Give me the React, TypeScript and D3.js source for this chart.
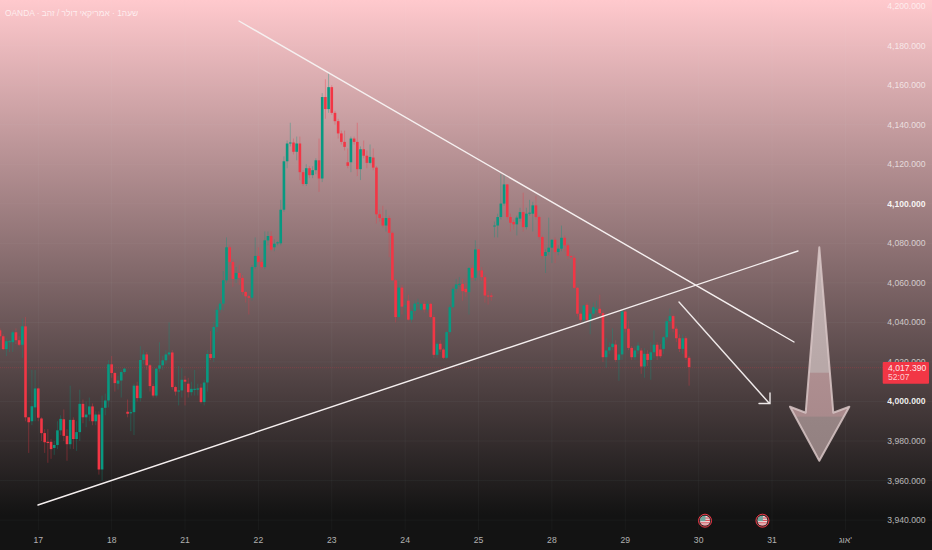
import React, { useEffect, useRef } from 'react';
import * as d3 from 'd3';

const opens = [
  4036,4033,4026.5,4030,4030,4035,4031,4028.7,4038,3992,
  3990,3997,4006.6,3991.4,3984,3979.6,3979.6,3976.5,3978,3985.4,
  3991,3982.6,3978.4,3990.7,3981,3984.5,3998.8,3992,3993.4,3997.5,
  3990,3993.4,3965.6,3996.8,4000.5,4018.8,4014.4,4009,4010.6,4014.9,
  3994.8,3994,3994.6,4008,4001.7,4021,4023.8,4018.3,4007.8,4003,
  4016.6,4018.3,4020.8,4023.8,4024.8,4007.3,4005,4005.6,4011,4009,
  4004.7,4006,4006,4007,3999.7,4009.6,4024,4022,4037.7,4046.4,
  4049.5,4061.3,4078,4070.6,4062,4065,4062.5,4055.4,4053.2,4052.5,
  4068,4073.6,4070.6,4068,4081.5,4083.7,4078,4080,4080,4097,
  4121.5,4130.5,4131,4126.3,4130.5,4116,4110,4118,4114.5,4117,
  4122,4112.8,4154,4147.9,4159,4146,4141.8,4135.6,4131.3,4121,
  4121,4133,4131.3,4117.5,4127.6,4124.3,4120.7,4123.4,4118.3,4094.7,
  4092.8,4089,4092.8,4085.3,4061.3,4042.7,4057.6,4048,4051,4041.4,
  4045.8,4049.5,4046.5,4049.4,4046.5,4049.4,4042.7,4023.6,4029.2,4026.3,
  4022.1,4035.1,4047.7,4057,4059.2,4059.5,4057,4055.3,4067.5,4062.6,
  4076.9,4066.3,4062.9,4053.6,4053.6,4088.6,4089,4093.3,4100.1,4109.8,
  4093.3,4090.8,4089.6,4092.5,4095.8,4088.2,4095,4095,4099.2,4093.3,
  4083.2,4073.6,4075.6,4077.8,4081.8,4075.6,4077.3,4082.8,4079,4073.6,
  4072.7,4057.5,4044.4,4041.3,4048.9,4041.3,4044.4,4046.5,4046.9,4044.7,
  4022.4,4025.8,4027.5,4028.8,4021,4023.8,4045.5,4036.8,4027.1,4022.4,
  4025.8,4025.8,4017.7,4024.1,4021,4024.9,4028.7,4026.3,4026.6,4032.5,
  4040.6,4043.2,4036.8,4032,4026.6,4032,4022.1,
];
const closes = [
  4033,4026.5,4030.5,4030.5,4035,4031,4028.7,4038,3992,3989.5,
  3997.6,4006.6,3991.8,3984,3979.4,3979,3975.9,3978,3985.4,3991.2,
  3982.6,3978.4,3990.7,3981,3984.5,3998.8,3992,3993.4,3997.5,3990,
  3993.4,3965.6,3996.8,4000.5,4018.8,4014.4,4009.3,4010.6,4014.9,4016.6,
  3993.8,3994.6,4008,4001.7,4021,4023.8,4018.3,4007.8,4003,4016.6,
  4018.3,4020.8,4023.8,4024.8,4007.3,4005,4005.6,4011,4010,4004.7,
  4006.4,4006.4,4006.6,3999.7,4009.6,4024,4022,4037.7,4046.4,4049.5,
  4061.3,4078,4070.6,4062,4065,4062.5,4055.4,4053.2,4052.5,4068,
  4073.6,4070.6,4068,4081.5,4083.7,4076.8,4079.8,4080.5,4097,4121.5,
  4130.5,4131,4126.3,4130.5,4116,4110,4118,4114.5,4117,4122,
  4112.8,4154,4147.9,4159,4146,4141.8,4135.6,4131.3,4128.8,4119.2,
  4133,4131.3,4117.5,4127.6,4124.3,4120.7,4123.7,4118.3,4094.7,4092.8,
  4089,4092.8,4085.3,4061.3,4042.7,4057.6,4048,4048.5,4041.4,4045.8,
  4049.5,4050,4049.4,4046.5,4049.4,4042.7,4023.6,4029.2,4026.3,4022.1,
  4035.1,4047.7,4057,4059.2,4059.5,4055.8,4055.3,4067.5,4062.6,4076.9,
  4066.3,4062.9,4053.6,4053.3,4053,4089,4093.3,4100.1,4109.8,4093.3,
  4090.4,4089.6,4093,4095.8,4088.2,4095,4095.5,4099.2,4093.3,4083.2,
  4073.6,4075.6,4077.8,4081.8,4075.6,4077.3,4082.8,4079,4073.6,4073,
  4057.5,4044.4,4041.3,4048.6,4041.3,4044.4,4047.7,4046.9,4044.7,4022.4,
  4025.8,4027.5,4029.2,4021,4023.8,4045.5,4036.8,4027.1,4022.4,4025.8,
  4028.3,4017.7,4024.1,4021,4024.9,4028.7,4022.9,4022.9,4032.5,4040.6,
  4043.2,4036.8,4032,4026.6,4032,4022.1,4017.4,
];
const highs = [
  4037,4034,4032,4031,4036,4037,4033,4042,4042.7,3992,
  4016,4016,4007,3992,3986,3986,3981,3980,3990,3993,
  3996,3986,4008,3992,3990,4006,4001,4000,4002,3999,
  3995,3995,4003,4004,4021,4023,4015,4013,4016,4017,
  4001,3996,4009,4010,4028,4026,4025,4019,4009,4017,
  4030,4023,4026,4040,4026,4008,4018,4017,4013,4012,
  4010,4016,4009,4009,4011,4026,4035.6,4040,4048,4051,
  4066,4083,4079,4072,4068,4069,4064,4056,4054,4069,
  4083,4078,4072,4086,4086,4086,4082,4081,4102,4124,
  4132,4141,4133,4134,4134,4117,4120,4119,4119,4123,
  4133,4156,4163,4166,4160,4147,4143,4137,4137,4128,
  4134,4134,4141,4129,4132,4127,4130,4128,4119,4097,
  4099,4097,4094,4086,4062,4061,4059,4052,4054,4047,
  4051,4052,4050,4051,4051,4050,4044,4030,4031,4027,
  4036,4049,4058,4062,4063,4062,4060,4068,4069,4081.5,
  4077,4068,4064,4056,4055,4091,4095,4115,4115,4110,
  4095,4092,4094,4098,4105.6,4098,4102,4101,4104,4094,
  4084,4077,4093,4082,4083,4079,4089,4084,4080,4074,
  4074,4058,4045,4049,4050,4045,4050,4051,4054,4046,
  4032,4030,4037,4031,4029,4046,4046,4041,4028,4028,
  4030,4027,4027,4026,4030,4036,4030,4029,4033,4042,
  4047,4044,4038,4034,4034,4033,4023,
];
const lows = [
  4031,4026,4023,4025,4025,4029,4028,4022,3990,3974,
  3988,3990,3990,3980,3974,3969,3971,3973,3976,3983,
  3980,3970,3976,3976,3975,3980,3989,3987,3990,3988,
  3988,3963,3960,3993,3997,4012,4005,4006,4002,4014,
  3992,3985,3983,4000,4000,4019,4016,4005,4002,4002,
  4015,4016,4019,4023,4006,4003,3998,4002,3998,4002,
  4003,4003,4003,3999,3998,4005,4021,4020,4035,4045,
  4046,4060,4069,4058,4060,4059,4054,4050,4044,4051,
  4067,4069,4067,4067,4079,4076,4076,4079,4079,4096,
  4118,4129,4125,4122,4112,4109,4109,4113,4113,4115,
  4106,4111,4143,4146,4145,4140,4133,4130,4127,4118,
  4116,4130,4114,4112,4123,4118,4120,4117,4090,4091,
  4088,4086,4073,4061,4040,4041,4044,4044,4041,4040,
  4044,4047,4046,4045,4045,4042,4022,4022,4025,4021.5,
  4021.5,4034,4047,4055,4058,4051,4053,4044,4061,4061,
  4064,4061,4050,4049,4051,4083,4083,4092,4099,4092,
  4086,4087,4084,4091,4086,4087,4094,4086,4092,4082,
  4072,4065,4074,4070,4070,4074,4076,4076,4072,4072,
  4057,4043,4040,4040,4040,4034,4043,4045,4043.5,4020,
  4017,4024,4026,4020,4010.5,4021,4035,4026,4021,4021,
  4024,4014,4012,4018,4011,4022,4021,4022,4024,4031,
  4040,4035,4030,4025,4024,4021,4008,
];

const priceTicks = [4200, 4180, 4160, 4140, 4120, 4100, 4080, 4060, 4040, 4020, 4000, 3980, 3960, 3940];
const boldTicks = [4100, 4000];
const dayBars = [12, 35, 58, 81, 104, 127, 150, 173, 196, 219, 242, 265];
const dayLabels = ['17', '18', '21', '22', '23', '24', '25', '28', '29', '30', '31', "אוג'"];
const eventBars = [221, 239];
const lastPrice = 4017.39;
const lastPriceLabel = '4,017.390';
const countdown = '52:07';
// each Hebrew word sits in its own RTL isolate, so the word order stays left to right
const title = 'OANDA · \u2067זהב\u2069 / \u2067דולר\u2069 \u2067אמריקאי\u2069 · 1\u2067שעה\u2069';

export default function App() {
  const svgRef = useRef<SVGSVGElement>(null);

  useEffect(() => {
    if (!svgRef.current) return;

    const width = 932;
    const height = 550;
    const svg = d3.select(svgRef.current)
      .attr('width', width)
      .attr('height', height)
      .attr('viewBox', `0 0 ${width} ${height}`);

    svg.selectAll('*').remove();

    const x = d3.scaleLinear().domain([0, 265]).range([0, 845.4]);
    const y = d3.scaleLinear().domain([3940, 4200]).range([520.1, 6.1]);
    const font = '"Liberation Sans", Arial, sans-serif';
    const green = '#089981';
    const red = '#f23645';

    const defs = svg.append('defs');
    const bg = defs.append('linearGradient').attr('id', 'bg')
      .attr('gradientUnits', 'userSpaceOnUse')
      .attr('x1', 0).attr('y1', 0).attr('x2', 0).attr('y2', 515);
    bg.append('stop').attr('offset', '0%').attr('stop-color', '#ffc9cd');
    bg.append('stop').attr('offset', '100%').attr('stop-color', '#131313');

    const arrowFill = defs.append('linearGradient').attr('id', 'arrowFill')
      .attr('gradientUnits', 'userSpaceOnUse')
      .attr('x1', 0).attr('y1', 247).attr('x2', 0).attr('y2', 461);
    [
      [0, '#c4b4b4'], [0.55, '#b8a8a8'], [0.585, '#b8a8a8'], [0.59, '#ae8e90'], [0.79, '#a98a8c'],
      [0.795, '#968484'], [1, '#928080'],
    ].forEach(d => arrowFill.append('stop').attr('offset', d[0] as number).attr('stop-color', d[1] as string));

    defs.append('clipPath').attr('id', 'flagClip').append('circle').attr('r', 5);

    svg.append('rect').attr('width', width).attr('height', height).attr('fill', 'url(#bg)');

    // Grid
    svg.append('g').selectAll('line').data(priceTicks).enter().append('line')
      .attr('x1', 0).attr('x2', width)
      .attr('y1', d => y(d)).attr('y2', d => y(d))
      .attr('stroke', '#f0f3fa').attr('stroke-opacity', 0.035);
    svg.append('g').selectAll('line').data(dayBars).enter().append('line')
      .attr('x1', d => x(d)).attr('x2', d => x(d))
      .attr('y1', 0).attr('y2', 530)
      .attr('stroke', '#f0f3fa').attr('stroke-opacity', 0.035);

    // Last price line
    svg.append('line')
      .attr('x1', 0).attr('x2', 884)
      .attr('y1', y(lastPrice) + 0.6).attr('y2', y(lastPrice) + 0.6)
      .attr('stroke', red).attr('stroke-opacity', 0.32).attr('stroke-width', 0.8)
      .attr('stroke-dasharray', '1 1');

    // Candles
    const bars = d3.range(opens.length);
    const candles = svg.append('g');
    candles.selectAll('.wick').data(bars).enter().append('line')
      .attr('x1', d => x(d)).attr('x2', d => x(d))
      .attr('y1', d => y(highs[d])).attr('y2', d => y(lows[d]))
      .attr('stroke', d => (closes[d] >= opens[d] ? green : red))
      .attr('stroke-opacity', 0.35)
      .attr('stroke-width', 1);
    candles.selectAll('.body').data(bars).enter().append('rect')
      .attr('x', d => x(d) - 1.3)
      .attr('width', 2.6)
      .attr('y', d => y(Math.max(opens[d], closes[d])))
      .attr('height', d => Math.max(1, Math.abs(y(opens[d]) - y(closes[d]))))
      .attr('fill', d => (closes[d] >= opens[d] ? green : red));

    // Trend lines and arrows
    const drawings = svg.append('g').attr('fill', 'none').attr('stroke-linecap', 'round');
    drawings.append('path').attr('d', 'M239,21L794,342').attr('stroke', '#f6f0f0').attr('stroke-width', 1.4);
    drawings.append('path').attr('d', 'M38,505L798,251').attr('stroke', '#f6f0f0').attr('stroke-width', 1.4);
    drawings.append('path').attr('d', 'M679,302L769,403M759,403.5H770V393').attr('stroke', '#eee8e8').attr('stroke-width', 1.4);
    drawings.append('path')
      .attr('d', 'M819.3,247.3L833.3,412.7L849.3,406.7L819.3,460.7L790,406.7L805.7,412.7Z')
      .attr('fill', 'url(#arrowFill)')
      .attr('stroke', '#d8c6c6').attr('stroke-opacity', 0.85).attr('stroke-width', 2).attr('stroke-linejoin', 'round');

    // Price axis
    svg.append('g').selectAll('text').data(priceTicks).enter().append('text')
      .attr('x', 925.5).attr('y', d => y(d)).attr('dy', '0.35em')
      .attr('text-anchor', 'end')
      .attr('font-family', font).attr('font-size', 8.6)
      .attr('font-weight', d => (boldTicks.includes(d) ? 700 : 400))
      .attr('fill', '#fff')
      .attr('fill-opacity', d => (boldTicks.includes(d) ? 0.92 : 0.68))
      .text(d => d3.format(',.3f')(d));

    // Day axis
    svg.append('g').selectAll('text').data(dayLabels).enter().append('text')
      .attr('x', (_, i) => x(dayBars[i])).attr('y', 543)
      .attr('text-anchor', 'middle')
      .attr('font-family', font).attr('font-size', 8.6)
      .attr('fill', '#fff').attr('fill-opacity', 0.68)
      .text(d => d);

    // Economic event badges
    const badges = svg.append('g').selectAll('g').data(eventBars).enter().append('g')
      .attr('transform', d => `translate(${x(d)},520.7)`);
    badges.append('circle').attr('r', 6.5).attr('fill', '#2a2a2a').attr('stroke', red).attr('stroke-width', 1);
    const flag = badges.append('g').attr('clip-path', 'url(#flagClip)');
    flag.append('rect').attr('x', -5).attr('y', -5).attr('width', 10).attr('height', 10).attr('fill', '#e9d9d9');
    [-3.2, -0.8, 1.6, 4].forEach(s => {
      flag.append('rect').attr('x', -5).attr('y', s).attr('width', 10).attr('height', 1.1).attr('fill', '#d9505c');
    });
    flag.append('rect').attr('x', -5).attr('y', -5).attr('width', 5.4).attr('height', 5.4).attr('fill', '#6fa59c');

    // Last price tag
    svg.append('rect').attr('x', 882.7).attr('y', 362).attr('width', 46.3).attr('height', 21.7).attr('rx', 1).attr('fill', red);
    svg.append('text').attr('x', 888).attr('y', 370.6)
      .attr('font-family', font).attr('font-size', 8.6).attr('fill', '#fff').attr('fill-opacity', 0.9)
      .text(lastPriceLabel);
    svg.append('text').attr('x', 888).attr('y', 380)
      .attr('font-family', font).attr('font-size', 8.6).attr('fill', '#fff').attr('fill-opacity', 0.75)
      .text(countdown);

    // Title
    svg.append('text').attr('x', 5).attr('y', 16)
      .attr('font-family', font).attr('font-size', 8.4)
      .attr('fill', '#fff').attr('fill-opacity', 0.72)
      .text(title);
  }, []);

  return <svg ref={svgRef} style={{ position: 'absolute', left: 0, top: 0, display: 'block' }} />;
}
